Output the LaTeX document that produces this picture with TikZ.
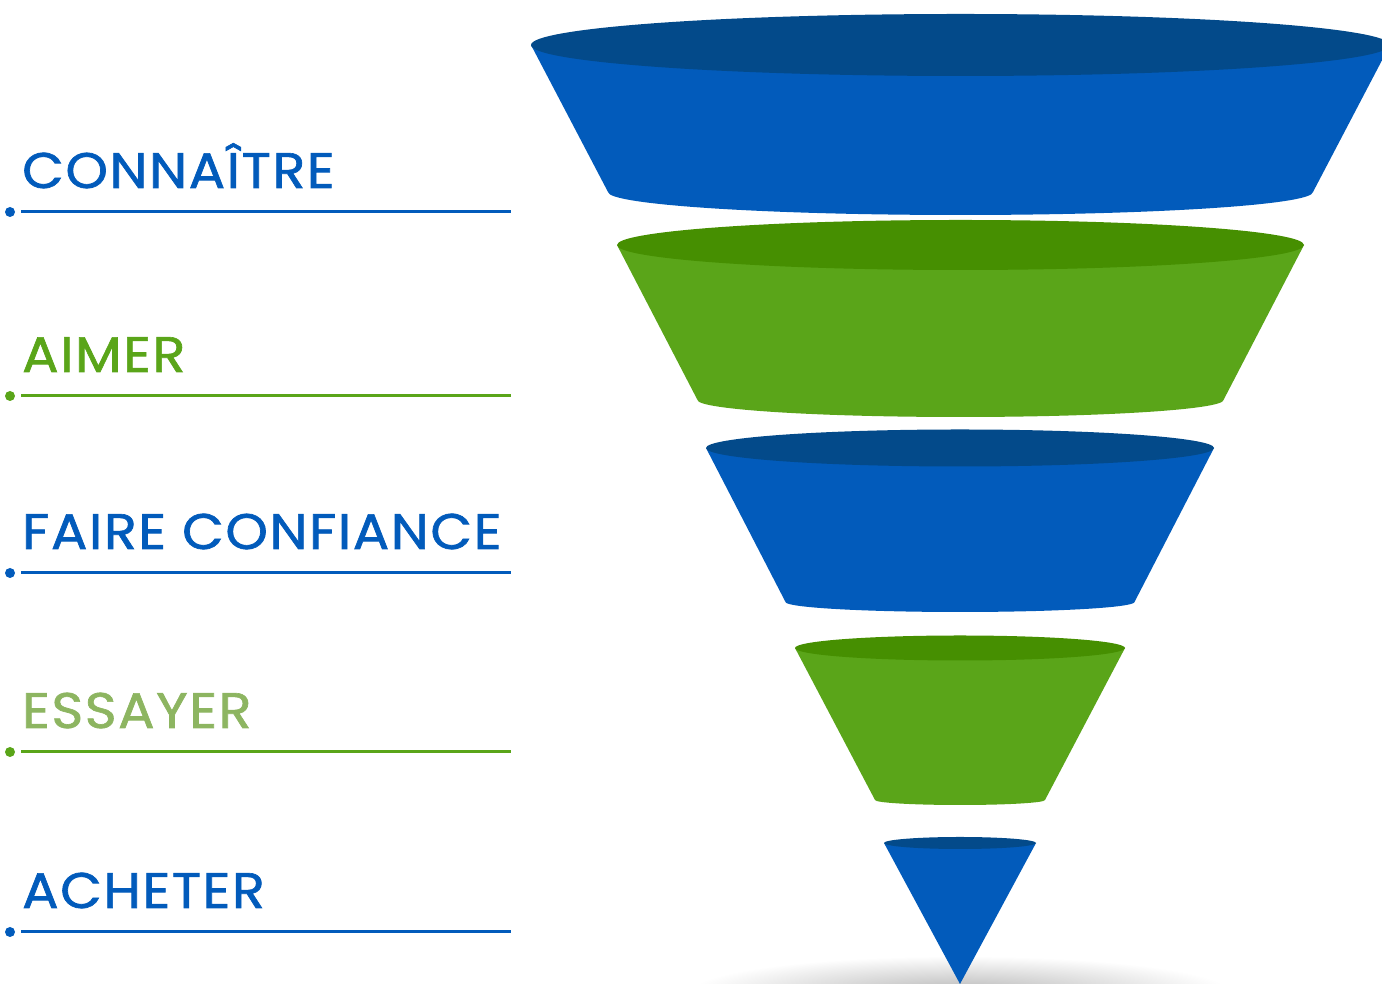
\documentclass[tikz,border=0pt]{standalone}
\usepackage{fontspec}
\setmainfont{Poppins}[LetterSpace=3,FakeBold=1.3]
\begin{document}
\begin{tikzpicture}[x=1pt,y=1pt,
  bluebody/.style={fill={rgb,255:red,2;green,91;blue,187}},
  bluetop/.style={fill={rgb,255:red,3;green,74;blue,138}},
  greenbody/.style={fill={rgb,255:red,90;green,165;blue,25}},
  greentop/.style={fill={rgb,255:red,70;green,143;blue,1}},
  stagelabel/.style={anchor=base west,inner sep=0pt,font=\fontsize{50}{60}\selectfont},
  stagedot/.style={circle,inner sep=0pt,minimum size=10pt},
  stageline/.style={line width=3pt}]
\definecolor{cblue}{RGB}{2,91,187}
\definecolor{cgreen}{RGB}{90,165,25}
\definecolor{clight}{RGB}{141,181,97}
\newcommand{\widetext}[1]{\scalebox{1.08}[1]{#1}}
\useasboundingbox (0,0) rectangle (1382,984);
\clip (0,0) rectangle (1382,984);

% soft shadow under the tip
\shade[inner color=black!28,outer color=white] (960,-8) ellipse [x radius=270,y radius=36];

% one funnel ring: #1 centre x, #2 top y, #3 top rx, #4 top ry,
% #5 bottom y, #6 bottom half width, #7 bottom ry, #8 body style, #9 top style
\newcommand{\funnelring}[9]{%
  \path[#8] (#1-#3,#2) -- (#1-#6,#5)
     arc[start angle=180,end angle=360,x radius=#6,y radius=#7]
     -- (#1+#3,#2) -- cycle;
  \path[#9] (#1,#2) ellipse [x radius=#3,y radius=#4];
}
\funnelring{960.5}{939}{429.5}{31}{792}{352.5}{23}{bluebody}{bluetop}
\funnelring{960.5}{739}{343.5}{25}{584}{263}{17}{greenbody}{greentop}
\funnelring{960}{536}{254}{18.5}{382}{174.5}{10}{bluebody}{bluetop}
\funnelring{960}{336}{165}{12.5}{184}{85}{5}{greenbody}{greentop}
% last piece ends in a point
\path[bluebody] (884,141) -- (960,0) -- (1036,141) -- cycle;
\path[bluetop] (960,141) ellipse [x radius=76,y radius=6];

% stage labels with their rules
\node[stagelabel,text=cblue] (l1) at (22,796) {\widetext{CONNAÎTRE}};
\node[stagedot,fill=cblue] (d1) at (10,772) {};
\coordinate (e1) at (511,772);
\draw[stageline,cblue] (21,772) -- (e1);

\node[stagelabel,text=cgreen] (l2) at (22,612) {\widetext{AIMER}};
\node[stagedot,fill=cgreen] (d2) at (10,588) {};
\coordinate (e2) at (511,588);
\draw[stageline,cgreen] (21,588) -- (e2);

\node[stagelabel,text=cblue] (l3) at (22,435) {\widetext{FAIRE CONFIANCE}};
\node[stagedot,fill=cblue] (d3) at (10,411) {};
\coordinate (e3) at (511,411);
\draw[stageline,cblue] (21,411) -- (e3);

\node[stagelabel,text=clight] (l4) at (22,256) {\widetext{ESSAYER}};
\node[stagedot,fill=cgreen] (d4) at (10,232) {};
\coordinate (e4) at (511,232);
\draw[stageline,cgreen] (21,232) -- (e4);

\node[stagelabel,text=cblue] (l5) at (22,76) {\widetext{ACHETER}};
\node[stagedot,fill=cblue] (d5) at (10,52) {};
\coordinate (e5) at (511,52);
\draw[stageline,cblue] (21,52) -- (e5);
\end{tikzpicture}
\end{document}
